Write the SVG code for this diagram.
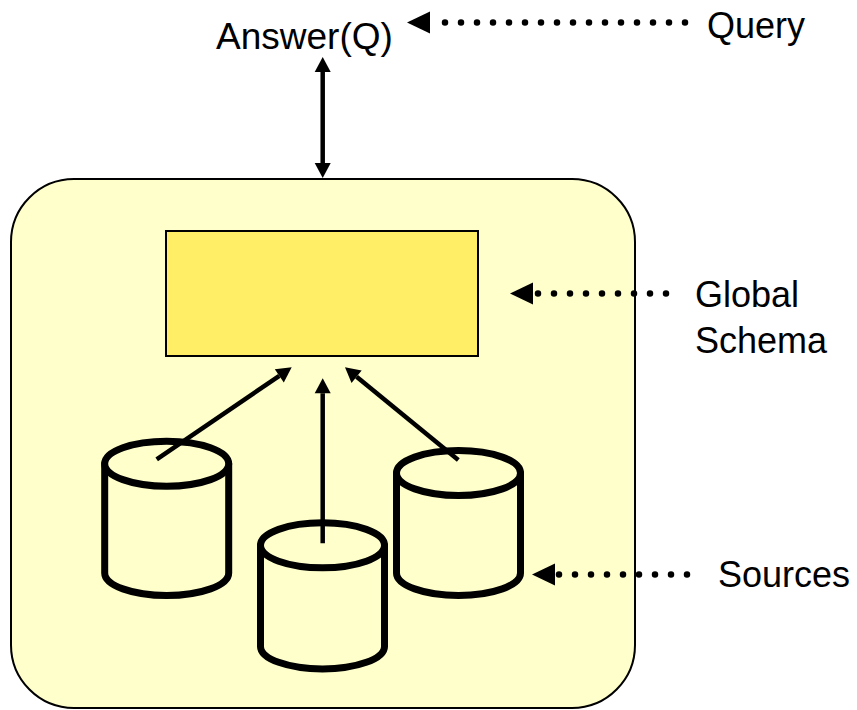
<svg xmlns="http://www.w3.org/2000/svg" width="857" height="710" viewBox="0 0 857 710">
  <style>
    .label { font-family: "Liberation Sans", Arial, sans-serif; font-size: 36px; fill: #000; }
    .big { font-size: 37px; }
    .frame { fill: #FFFFCC; stroke: #000; stroke-width: 2; }
    .schema { fill: #FFEE66; stroke: #000; stroke-width: 2; }
    .db { fill: #FFFFCC; stroke: #000; stroke-width: 7; stroke-linejoin: round; }
    .solid { fill: none; stroke: #000; stroke-width: 4.5; }
    .dotted { fill: none; stroke: #000; stroke-width: 6.5; stroke-linecap: round; stroke-dasharray: 0 16; }
  </style>
  <defs>
    <marker id="head" markerUnits="userSpaceOnUse" markerWidth="20" markerHeight="20" refX="0" refY="8" orient="auto-start-reverse" overflow="visible">
      <path d="M0,0 L15,8 L0,16 z" fill="#000"/>
    </marker>
    <marker id="bighead" markerUnits="userSpaceOnUse" markerWidth="26" markerHeight="24" refX="0" refY="11" orient="auto" overflow="visible">
      <path d="M0,0 L23,11 L0,22 z" fill="#000"/>
    </marker>
  </defs>

  <!-- mediator frame -->
  <g id="mediator">
    <rect class="frame" x="11" y="179" width="624" height="529" rx="63" ry="63"/>
  </g>

  <!-- global schema box -->
  <g id="global-schema">
    <rect class="schema" x="166" y="231" width="312" height="125"/>
  </g>

  <!-- data sources -->
  <g id="source-left">
    <path class="db" d="M104.7,463.7 L104.7,573 A62,22.5 0 0 0 228.7,573 L228.7,463.7 z"/>
    <ellipse class="db" cx="166.7" cy="463.7" rx="62" ry="22.5"/>
  </g>
  <g id="source-middle">
    <path class="db" d="M260.5,545.3 L260.5,646.4 A62,22.5 0 0 0 384.5,646.4 L384.5,545.3 z"/>
    <ellipse class="db" cx="322.5" cy="545.3" rx="62" ry="22.5"/>
  </g>
  <g id="source-right">
    <path class="db" d="M396.5,473 L396.5,573 A62,22.5 0 0 0 520.5,573 L520.5,473 z"/>
    <ellipse class="db" cx="458.5" cy="473" rx="62" ry="22.5"/>
  </g>

  <!-- labels -->
  <g id="answer">
    <text class="label big" x="216" y="49">Answer(Q)</text>
  </g>
  <g id="query">
    <text class="label" x="707" y="38">Query</text>
  </g>
  <g id="schema-label">
    <text class="label" x="695" y="307">Global</text>
    <text class="label" x="695" y="353">Schema</text>
  </g>
  <g id="sources-label">
    <text class="label" x="718" y="587">Sources</text>
  </g>

  <!-- connectors -->
  <g id="connectors">
    <line class="solid" x1="322.7" y1="72" x2="322.7" y2="163" marker-start="url(#head)" marker-end="url(#head)"/>
    <line class="solid" x1="156.7" y1="459.3" x2="279.3" y2="375.8" marker-end="url(#head)"/>
    <line class="solid" x1="322.7" y1="543.3" x2="322.7" y2="393.3" marker-end="url(#head)"/>
    <line class="solid" x1="458.3" y1="460" x2="356.6" y2="376.8" marker-end="url(#head)"/>
    <line class="dotted" x1="685" y1="22.5" x2="430" y2="22.5" marker-end="url(#bighead)"/>
    <line class="dotted" x1="666" y1="293.5" x2="533" y2="293.5" marker-end="url(#bighead)"/>
    <line class="dotted" x1="687" y1="574.5" x2="555" y2="574.5" marker-end="url(#bighead)"/>
  </g>
</svg>
